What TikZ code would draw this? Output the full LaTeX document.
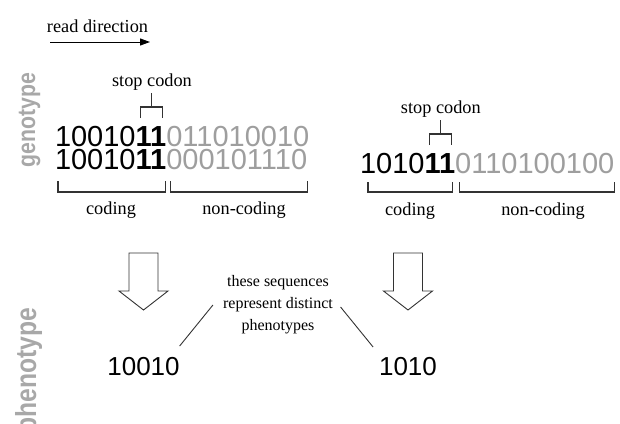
\documentclass[tikz,border=0pt]{standalone}
\usepackage{fontspec}
\usepackage{graphicx}
\setmainfont{Liberation Serif}
\newfontfamily\seqfont{Liberation Sans}
\usetikzlibrary{arrows.meta,positioning}

\definecolor{seqgray}{gray}{0.62}
\definecolor{axisgray}{gray}{0.66}
\definecolor{inkline}{gray}{0.2}

\tikzset{
  bit/.style={inner sep=0pt, outer sep=0pt, anchor=base west,
    text height=21pt, text depth=0pt,
    font=\seqfont\fontsize{29}{29}\selectfont},
  bitbold/.style={bit, font=\seqfont\bfseries\fontsize{29}{29}\selectfont},
  bitgray/.style={bit, text=seqgray},
  note/.style={inner sep=0pt, font=\fontsize{18.3}{22}\selectfont},
  axislbl/.style={inner sep=0pt, anchor=base, rotate=90, text=axisgray,
    font=\seqfont\bfseries},
  brk/.style={draw=inkline, line width=1.1pt},
  conn/.style={draw=inkline, line width=0.9pt},
  hollow/.style={draw=inkline, line width=0.9pt, fill=white},
}

\begin{document}
\begin{tikzpicture}[x=1pt, y=-1pt, >={Triangle[length=10pt,width=7pt]}]
  \useasboundingbox (0,0) rectangle (620,423);

  % reading direction
  \node[note, anchor=base] (readdir) at (97.5,32) {read direction};
  \coordinate (rd0) at (50,42);
  \coordinate (rd1) at (150,42);
  \draw[->, line width=1pt] (rd0) -- (rd1);

  % side labels
  \node[axislbl] (geno) at (35,120)
    {\fontsize{25}{25}\selectfont\scalebox{0.85}[1]{genotype}};
  \node[axislbl] (pheno) at (36,370)
    {\fontsize{29}{29}\selectfont\scalebox{0.85}[1]{phenotype}};

  % first genome, two sequences
  \node[bit] (A1a) at (55,146) {10010};
  \node[bitbold] (A1b) at (A1a.base east) {11};
  \node[bitgray] (A1c) at (A1b.base east) {011010010};
  \node[bit] (A2a) at (55,169) {10010};
  \node[bitbold] (A2b) at (A2a.base east) {11};
  \node[bitgray] (A2c) at (A2b.base east) {000101110};

  % second genome
  \node[bit] (B1a) at (360,173) {1010};
  \node[bitbold] (B1b) at (B1a.base east) {11};
  \node[bitgray] (B1c) at (B1b.base east) {0110100100};

  % stop codon markers
  \foreach \s in {A1b,B1b}{
    \draw[brk] ([shift={(5,-28)}]\s.base west) |- ([shift={(-3.5,-39)}]\s.base east) -- ++(0,11);
    \draw[brk] ([shift={(0.5,-39)}]\s.base) -- ++(0,-14);
    \node[note, anchor=base] (stop\s) at ([shift={(1,-60)}]\s.base) {stop codon};
  }

  % coding / non-coding brackets
  \draw[brk] ([shift={(3,12)}]A2a.base west) |- ([shift={(-1,23)}]A2b.base east) -- ++(0,-11);
  \draw[brk] ([shift={(4,12)}]A2c.base west) |- ([shift={(0,23)}]A2c.base east) -- ++(0,-11);
  \draw[brk] ([shift={(8,9)}]B1a.base west) |- ([shift={(-2.5,19)}]B1b.base east) -- ++(0,-10);
  \draw[brk] ([shift={(4.5,9)}]B1c.base west) |- ([shift={(0.5,19)}]B1c.base east) -- ++(0,-10);

  \node[note, anchor=base] (codA) at (111,214) {coding};
  \node[note, anchor=base] (ncodA) at (244,214) {non-coding};
  \node[note, anchor=base] (codB) at (410,215) {coding};
  \node[note, anchor=base] (ncodB) at (543,215) {non-coding};

  % expression arrows
  \foreach \cx in {143.5,408}
    \draw[hollow] (\cx-14.5,253) -- (\cx+14.5,253) -- (\cx+14.5,291) -- (\cx+24.5,291)
      -- (\cx,310) -- (\cx-24.5,291) -- (\cx-14.5,291) -- cycle;

  % resulting phenotypes
  \node[bit, anchor=base, font=\seqfont\fontsize{26}{26}\selectfont] (resA) at (143.5,375) {10010};
  \node[bit, anchor=base, font=\seqfont\fontsize{26}{26}\selectfont] (resB) at (408,375) {1010};

  \node[note, font=\fontsize{16}{22}\selectfont, align=center] (distinct) at (278,305)
    {these sequences\\represent distinct\\phenotypes};
  \draw[conn] ([xshift=-10pt]distinct.west) -- ([shift={(0,-8)}]resA.north east);
  \draw[conn] ([shift={(7.5,2)}]distinct.east) -- ([shift={(-6,-7)}]resB.north west);
\end{tikzpicture}
\end{document}
